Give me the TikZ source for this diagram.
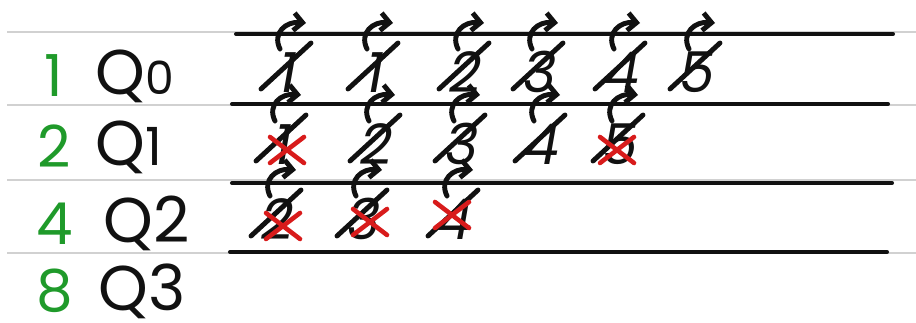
\documentclass[tikz,border=0pt]{standalone}
\usepackage{fontspec}
\setmainfont{Poppins}
\usetikzlibrary{arrows.meta}
\definecolor{QueueInk}{HTML}{111111}
\definecolor{QuantumGreen}{HTML}{1F9A2A}
\definecolor{RuleGray}{gray}{0.82}
\definecolor{KillRed}{HTML}{D81B1B}
\newcommand{\BurstCell}[4]{%
  \node[burst] (#1) at (#2,#3) {#4};
  \draw[penline] ({#2-27},{#3-4}) -- ({#2+23},{#3-50});
  \draw[penline,-{Straight Barb[length=5pt,width=10pt]}] ({#2-8},{#3-44})
    .. controls ({#2-16},{#3-60}) and ({#2-2},{#3-72}) .. ({#2+18},{#3-70});
}
\newcommand{\KillMark}[3]{%
  \coordinate (#1) at (#2,#3);
  \draw[killstroke] ([shift={(-17,-13)}]#1) -- ([shift={(17,13)}]#1);
  \draw[killstroke] ([shift={(-17,13)}]#1) -- ([shift={(17,-13)}]#1);
}

\begin{document}
\begin{tikzpicture}[
  x=0.02cm,y=-0.02cm,
  rule/.style={RuleGray,line width=1.2pt},
  lane/.style={QueueInk,line width=2.3pt,line cap=round},
  penline/.style={QueueInk,line width=2.8pt,line cap=round},
  killstroke/.style={KillRed,line width=2.6pt,line cap=round},
  burst/.style={anchor=base,inner sep=0pt,font=\fontsize{32}{34}\selectfont\itshape,text=QueueInk},
  quantum/.style={anchor=base,inner sep=0pt,text depth=0pt,font=\fontsize{33}{36}\selectfont,text=QuantumGreen},
  queue/.style={anchor=base west,inner sep=0pt,text depth=0pt,font=\fontsize{36}{40}\selectfont,text=QueueInk},
]
  \useasboundingbox (0,0) rectangle (916,323);

  \draw[rule] (7,32) -- (916,32);
  \draw[rule] (7,105) -- (916,105);
  \draw[rule] (7,180) -- (916,180);
  \draw[rule] (7,253) -- (916,253);

  \draw[lane] (236,34) -- (893,34);
  \draw[lane] (232,104) -- (888,104);
  \draw[lane] (232,183) -- (892,183);
  \draw[lane] (230,252) -- (887,252);

  \node[quantum] (t0) at (54,97) {1};
  \node[quantum] (t1) at (54,168) {2};
  \node[quantum] (t2) at (55,245) {4};
  \node[quantum] (t3) at (55,312) {8};
  \node[queue] (q0) at (95,95) {Q{\fontsize{26}{28}\selectfont 0}};
  \node[queue] (q1) at (95,166) {Q{\fontsize{30}{32}\selectfont 1}};
  \node[queue] (q2) at (103,243) {Q2};
  \node[queue] (q3) at (98,311) {Q3};

  \BurstCell{a1}{288}{93}{1}
  \BurstCell{a2}{375}{93}{1}
  \BurstCell{a3}{466}{93}{2}
  \BurstCell{a4}{540}{93}{3}
  \BurstCell{a5}{622}{93}{4}
  \BurstCell{a6}{697}{93}{5}

  \BurstCell{b1}{283}{165}{1}
  \BurstCell{b2}{377}{165}{2}
  \BurstCell{b3}{462}{165}{3}
  \BurstCell{b4}{542}{165}{4}
  \BurstCell{b5}{620}{165}{5}

  \BurstCell{c1}{278}{240}{2}
  \BurstCell{c2}{364}{240}{3}
  \BurstCell{c3}{455}{240}{4}

  \KillMark{x1}{287}{150}
  \KillMark{x2}{617}{150}
  \KillMark{x3}{283}{226}
  \KillMark{x4}{370}{222}
  \KillMark{x5}{452}{215}
\end{tikzpicture}
\end{document}
